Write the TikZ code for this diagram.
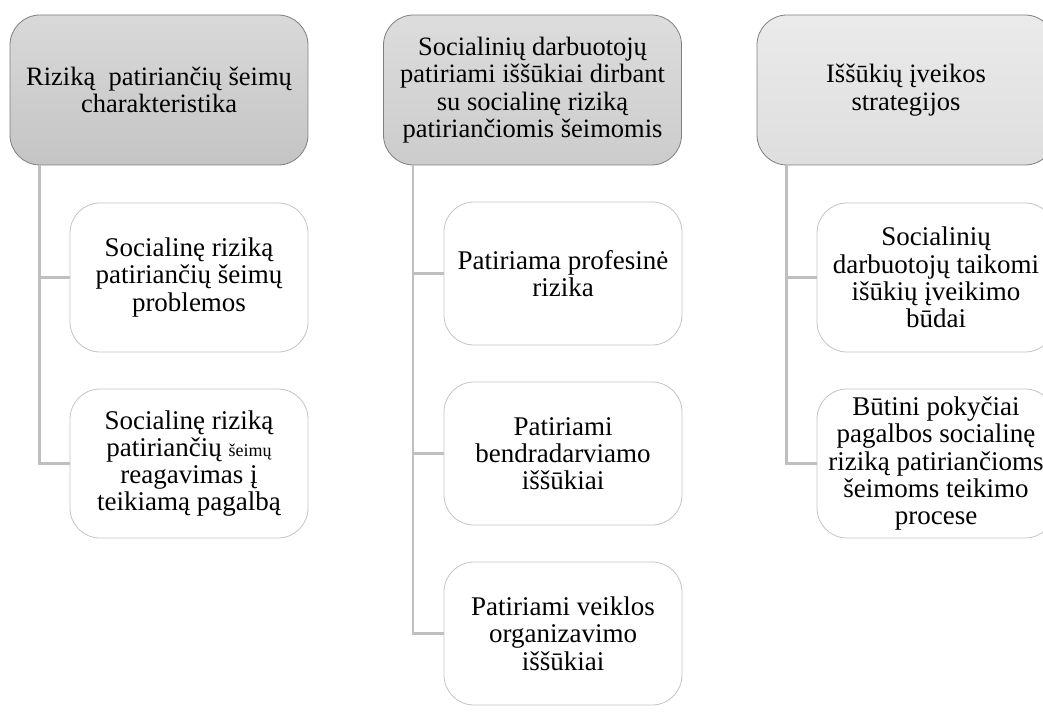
\documentclass[tikz,border=0pt]{standalone}
\usepackage{fontspec}
\setmainfont{Liberation Serif}
\usepackage{tikz}

\definecolor{headline}{HTML}{7F7F7F}
\definecolor{boxline}{HTML}{C4C4C4}
\definecolor{linkgray}{HTML}{BFBFBF}

\begin{document}
\begin{tikzpicture}[x=1pt, y=-1pt,
        head/.style = {draw=headline, line width=0.8pt, rounded corners=30pt,
            minimum width=298pt, minimum height=150pt, align=center, inner sep=2pt,
            font=\fontsize{26.5}{27.3}\selectfont},
        sub/.style = {draw=boxline, line width=0.8pt, rounded corners=30pt, fill=white,
            minimum width=238pt, align=center, inner sep=2pt,
            font=\fontsize{27}{27.3}\selectfont},
        link/.style = {draw=linkgray, line width=2.6pt}]
        \useasboundingbox (0, 0) rectangle (1043, 722);
        \clip (0, 0) rectangle (1043, 722);
        % header boxes
        \node[head, top color=gray!30, bottom color=gray!46] (risk) at (159, 90)
            {Riziką\ \ patiriančių šeimų\\charakteristika};
        \node[head, top color=gray!27, bottom color=gray!40] (work) at (532.5, 90)
            {Socialinių darbuotojų\\patiriami iššūkiai dirbant\\su socialinę riziką\\patiriančiomis šeimomis};
        \node[head, top color=gray!16, bottom color=gray!26] (cope) at (906, 90)
            {Iššūkių įveikos\\strategijos};
        % first column
        \node[sub, minimum height=149pt] (riskA) at (189, 277.5)
            {Socialinę riziką\\patiriančių šeimų\\problemos};
        \node[sub, minimum height=149pt] (riskB) at (189, 463.5)
            {Socialinę riziką\\patiriančių {\fontsize{18}{27.3}\selectfont šeimų}\\reagavimas į\\teikiamą pagalbą};
        % second column
        \node[sub, minimum height=143pt] (workA) at (563, 273.5)
            {Patiriama profesinė\\rizika};
        \node[sub, minimum height=143pt] (workB) at (563, 453.5)
            {Patiriami\\bendradarviamo\\iššūkiai};
        \node[sub, minimum height=143pt] (workC) at (563, 633.5)
            {Patiriami veiklos\\organizavimo\\iššūkiai};
        % third column
        \node[sub, minimum height=149pt] (copeA) at (936, 277.5)
            {Socialinių\\darbuotojų taikomi\\išūkių įveikimo\\būdai};
        \node[sub, minimum height=149pt] (copeB) at (936, 463.5)
            {Būtini pokyčiai\\pagalbos socialinę\\riziką patiriančioms\\šeimoms teikimo\\procese};
        % connectors
        \draw[link] (risk.south west) ++(30, 0) |- (riskA.west);
        \draw[link] (risk.south west) ++(30, 0) |- (riskB.west);
        \draw[link] (work.south west) ++(30, 0) |- (workA.west);
        \draw[link] (work.south west) ++(30, 0) |- (workB.west);
        \draw[link] (work.south west) ++(30, 0) |- (workC.west);
        \draw[link] (cope.south west) ++(30, 0) |- (copeA.west);
        \draw[link] (cope.south west) ++(30, 0) |- (copeB.west);
    \end{tikzpicture}
\end{document}
